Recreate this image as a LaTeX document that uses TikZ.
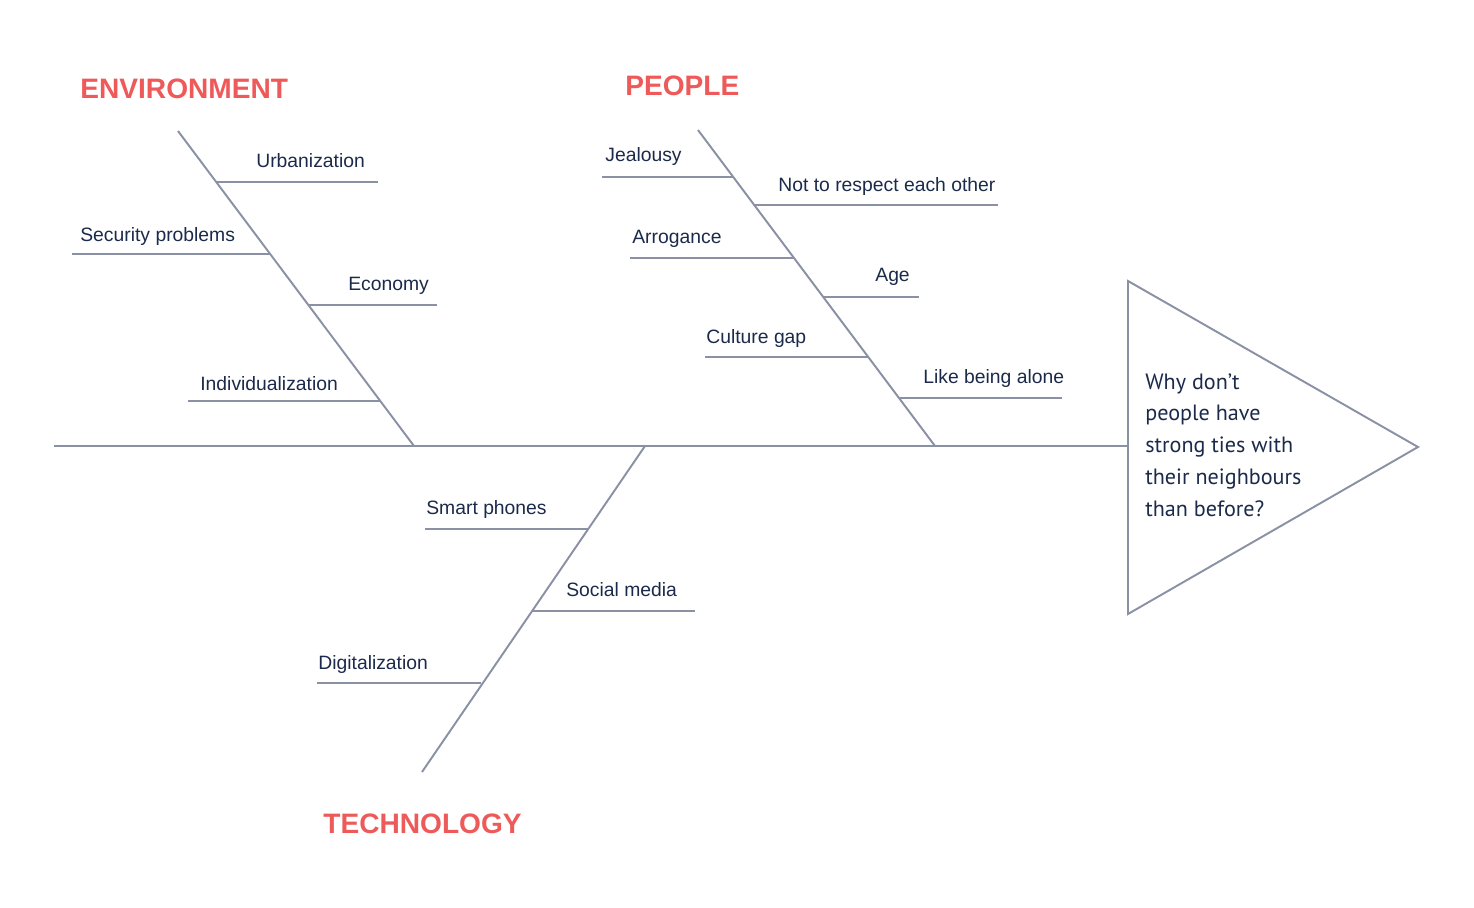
\documentclass[tikz,border=0pt]{standalone}
\usepackage{fontspec}
\setmainfont{Liberation Sans}
\newfontfamily\qfont{PT Sans}
\definecolor{bone}{HTML}{8A91A5}
\definecolor{txt}{HTML}{1B2A4A}
\definecolor{head}{HTML}{EE5A5A}
\begin{document}
\begin{tikzpicture}[x=0.02cm,y=-0.02cm,
  boneline/.style={draw=bone,line width=1.1pt},
  lbl/.style={anchor=base west,inner sep=0pt,text=txt,font=\fontsize{11}{13}\selectfont},
  hdr/.style={anchor=base west,inner sep=0pt,text=head,font=\fontsize{16}{19}\selectfont\bfseries},
  qtext/.style={anchor=north west,inner sep=0pt,text=txt,align=left,font=\qfont\fontsize{12.6}{18.1}\selectfont}]
\useasboundingbox (0,0) rectangle (1474,908);
% spine and head
\coordinate (tail) at (54,446);
\coordinate (hb) at (1128,446);
\draw[boneline,line join=miter] (1128,281) coordinate (t1) -- (1418,447) coordinate (t2) -- (1128,614) coordinate (t3) -- cycle;
\draw[boneline] (tail) -- (hb);
\node[qtext] (q) at (1145,373) {Why don’t\\people have\\strong ties with\\their neighbours\\than before?};
% environment
\coordinate (e0) at (178,131);
\coordinate (e1) at (414,446);
\draw[boneline] (e0) -- (e1);
\node[hdr] (env) at (80,99) {ENVIRONMENT};
\coordinate (u1) at (217,182); \coordinate (u2) at (378,182);
\draw[boneline] (u1) -- (u2);
\node[lbl] (urb) at (256,168) {Urbanization};
\coordinate (s1) at (72,254); \coordinate (s2) at (270,254);
\draw[boneline] (s1) -- (s2);
\node[lbl] (sec) at (80,242) {Security problems};
\coordinate (ec1) at (309,305); \coordinate (ec2) at (437,305);
\draw[boneline] (ec1) -- (ec2);
\node[lbl] (eco) at (348,291) {Economy};
\coordinate (i1) at (188,401); \coordinate (i2) at (380,401);
\draw[boneline] (i1) -- (i2);
\node[lbl] (ind) at (200,391) {Individualization};
% people
\coordinate (p0) at (698,130);
\coordinate (p1) at (935,446);
\draw[boneline] (p0) -- (p1);
\node[hdr] (ppl) at (625,96) {PEOPLE};
\coordinate (j1) at (602,177); \coordinate (j2) at (733,177);
\draw[boneline] (j1) -- (j2);
\node[lbl] (jea) at (605,162) {Jealousy};
\coordinate (n1) at (755,205); \coordinate (n2) at (998,205);
\draw[boneline] (n1) -- (n2);
\node[lbl] (not) at (778,192) {Not to respect each other};
\coordinate (a1) at (630,258); \coordinate (a2) at (793,258);
\draw[boneline] (a1) -- (a2);
\node[lbl] (arr) at (632,244) {Arrogance};
\coordinate (g1) at (823,297); \coordinate (g2) at (919,297);
\draw[boneline] (g1) -- (g2);
\node[lbl] (age) at (875,282) {Age};
\coordinate (c1) at (705,357); \coordinate (c2) at (868,357);
\draw[boneline] (c1) -- (c2);
\node[lbl] (cul) at (706,344) {Culture gap};
\coordinate (l1) at (899,398); \coordinate (l2) at (1062,398);
\draw[boneline] (l1) -- (l2);
\node[lbl] (lik) at (923,384) {Like being alone};
% technology
\coordinate (t0) at (645,446);
\coordinate (tb) at (422,772);
\draw[boneline] (t0) -- (tb);
\node[hdr] (tec) at (323,833) {TECHNOLOGY};
\coordinate (sp1) at (425,529); \coordinate (sp2) at (588,529);
\draw[boneline] (sp1) -- (sp2);
\node[lbl] (sma) at (426,515) {Smart phones};
\coordinate (sm1) at (532,611); \coordinate (sm2) at (695,611);
\draw[boneline] (sm1) -- (sm2);
\node[lbl] (soc) at (566,597) {Social media};
\coordinate (d1) at (317,683); \coordinate (d2) at (481,683);
\draw[boneline] (d1) -- (d2);
\node[lbl] (dig) at (318,669) {Digitalization};
\end{tikzpicture}
\end{document}
